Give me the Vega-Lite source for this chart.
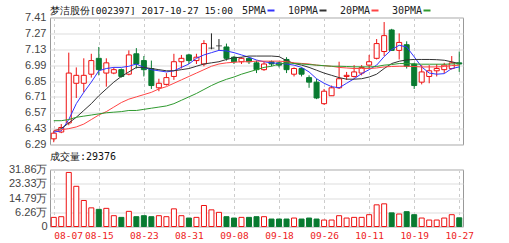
{
"$schema": "https://vega.github.io/schema/vega-lite/v6.json",
"padding": {"left": 0, "top": 5.5, "right": 0, "bottom": 0},
"background": "white",
"spacing": 0,
"config": {
  "view": {"stroke": "#999", "strokeWidth": 1},
  "font": "DejaVu Sans Mono",
  "title": {"fontWeight": "normal", "color": "#222"}
},
"datasets": {"k": [
{"d":"08-07","o":6.34,"h":6.41,"l":6.31,"c":6.39,"dir":"up","ma5":6.40,"ma10":6.41,"ma20":6.415,"ma30":6.50,"vol":3.19},
{"d":"08-08","o":6.40,"h":6.47,"l":6.39,"c":6.44,"dir":"up","ma5":6.41,"ma10":6.43,"ma20":6.42,"ma30":6.50,"vol":3.6},
{"d":"08-09","o":6.48,"h":7.10,"l":6.46,"c":6.92,"dir":"up","ma5":6.51,"ma10":6.48,"ma20":6.43,"ma30":6.51,"vol":30.1},
{"d":"08-10","o":6.83,"h":6.97,"l":6.70,"c":6.90,"dir":"up","ma5":6.65,"ma10":6.53,"ma20":6.445,"ma30":6.53,"vol":21.8},
{"d":"08-11","o":6.83,"h":7.05,"l":6.75,"c":6.90,"dir":"up","ma5":6.75,"ma10":6.59,"ma20":6.47,"ma30":6.54,"vol":13.3},
{"d":"08-14","o":6.91,"h":7.09,"l":6.88,"c":7.03,"dir":"up","ma5":6.84,"ma10":6.65,"ma20":6.51,"ma30":6.55,"vol":8.9},
{"d":"08-15","o":7.05,"h":7.15,"l":6.90,"c":6.95,"dir":"down","ma5":6.94,"ma10":6.72,"ma20":6.55,"ma30":6.56,"vol":8.0},
{"d":"08-16","o":6.92,"h":7.05,"l":6.80,"c":7.01,"dir":"up","ma5":6.96,"ma10":6.78,"ma20":6.58,"ma30":6.57,"vol":8.6},
{"d":"08-17","o":6.92,"h":6.97,"l":6.91,"c":6.95,"dir":"up","ma5":6.97,"ma10":6.84,"ma20":6.62,"ma30":6.575,"vol":4.2},
{"d":"08-18","o":6.95,"h":6.96,"l":6.88,"c":6.89,"dir":"down","ma5":6.97,"ma10":6.89,"ma20":6.66,"ma30":6.58,"vol":3.2},
{"d":"08-21","o":6.91,"h":7.12,"l":6.90,"c":7.08,"dir":"up","ma5":6.98,"ma10":6.93,"ma20":6.69,"ma30":6.59,"vol":6.8},
{"d":"08-22","o":7.09,"h":7.14,"l":6.96,"c":7.00,"dir":"down","ma5":7.00,"ma10":6.97,"ma20":6.71,"ma30":6.59,"vol":3.6},
{"d":"08-23","o":7.03,"h":7.07,"l":6.89,"c":6.95,"dir":"down","ma5":6.97,"ma10":6.97,"ma20":6.73,"ma30":6.60,"vol":4.2},
{"d":"08-24","o":6.96,"h":7.03,"l":6.78,"c":6.81,"dir":"down","ma5":6.95,"ma10":6.96,"ma20":6.75,"ma30":6.61,"vol":3.6},
{"d":"08-25","o":6.79,"h":6.87,"l":6.76,"c":6.83,"dir":"up","ma5":6.94,"ma10":6.95,"ma20":6.78,"ma30":6.62,"vol":4.2},
{"d":"08-28","o":6.82,"h":6.92,"l":6.81,"c":6.88,"dir":"up","ma5":6.93,"ma10":6.94,"ma20":6.80,"ma30":6.63,"vol":3.6},
{"d":"08-29","o":6.89,"h":7.09,"l":6.86,"c":7.02,"dir":"up","ma5":6.94,"ma10":6.94,"ma20":6.83,"ma30":6.65,"vol":8.3},
{"d":"08-30","o":7.02,"h":7.08,"l":6.96,"c":7.05,"dir":"up","ma5":6.97,"ma10":6.95,"ma20":6.86,"ma30":6.68,"vol":4.2},
{"d":"08-31","o":7.08,"h":7.09,"l":7.00,"c":7.03,"dir":"down","ma5":7.00,"ma10":6.96,"ma20":6.89,"ma30":6.71,"vol":2.8},
{"d":"09-01","o":7.03,"h":7.09,"l":7.00,"c":7.06,"dir":"up","ma5":7.05,"ma10":6.98,"ma20":6.92,"ma30":6.74,"vol":3.2},
{"d":"09-04","o":7.00,"h":7.21,"l":6.98,"c":7.18,"dir":"up","ma5":7.08,"ma10":7.00,"ma20":6.95,"ma30":6.775,"vol":10.3},
{"d":"09-05","o":7.14,"h":7.27,"l":7.13,"c":7.14,"dir":"flat","ma5":7.10,"ma10":7.01,"ma20":6.98,"ma30":6.81,"vol":7.7},
{"d":"09-06","o":7.16,"h":7.22,"l":7.12,"c":7.16,"dir":"flat","ma5":7.12,"ma10":7.02,"ma20":7.00,"ma30":6.84,"vol":6.2},
{"d":"09-07","o":7.15,"h":7.18,"l":7.03,"c":7.05,"dir":"down","ma5":7.115,"ma10":7.04,"ma20":7.01,"ma30":6.865,"vol":3.6},
{"d":"09-08","o":7.06,"h":7.07,"l":7.00,"c":7.02,"dir":"down","ma5":7.10,"ma10":7.055,"ma20":7.015,"ma30":6.885,"vol":2.8},
{"d":"09-11","o":7.02,"h":7.06,"l":7.00,"c":7.05,"dir":"up","ma5":7.08,"ma10":7.06,"ma20":7.02,"ma30":6.91,"vol":3.2},
{"d":"09-12","o":7.05,"h":7.06,"l":7.00,"c":7.02,"dir":"down","ma5":7.06,"ma10":7.07,"ma20":7.02,"ma30":6.93,"vol":3.2},
{"d":"09-13","o":7.01,"h":7.03,"l":6.92,"c":6.95,"dir":"down","ma5":7.035,"ma10":7.07,"ma20":7.025,"ma30":6.95,"vol":3.6},
{"d":"09-14","o":6.95,"h":7.02,"l":6.94,"c":7.00,"dir":"up","ma5":7.02,"ma10":7.07,"ma20":7.025,"ma30":6.97,"vol":3.6},
{"d":"09-15","o":7.02,"h":7.03,"l":6.98,"c":7.00,"dir":"down","ma5":7.01,"ma10":7.07,"ma20":7.025,"ma30":6.98,"vol":2.2},
{"d":"09-18","o":7.01,"h":7.02,"l":6.97,"c":6.99,"dir":"down","ma5":7.005,"ma10":7.065,"ma20":7.025,"ma30":7.00,"vol":2.2},
{"d":"09-19","o":7.04,"h":7.06,"l":6.92,"c":6.95,"dir":"down","ma5":7.00,"ma10":7.03,"ma20":7.02,"ma30":7.01,"vol":2.2},
{"d":"09-20","o":6.91,"h":6.97,"l":6.89,"c":6.96,"dir":"up","ma5":6.99,"ma10":7.005,"ma20":7.01,"ma30":7.005,"vol":2.8},
{"d":"09-21","o":6.96,"h":6.97,"l":6.89,"c":6.91,"dir":"down","ma5":6.97,"ma10":6.99,"ma20":7.005,"ma30":7.00,"vol":2.2},
{"d":"09-22","o":6.88,"h":6.90,"l":6.79,"c":6.84,"dir":"down","ma5":6.93,"ma10":6.97,"ma20":7.00,"ma30":6.995,"vol":2.8},
{"d":"09-25","o":6.84,"h":6.87,"l":6.69,"c":6.70,"dir":"down","ma5":6.87,"ma10":6.945,"ma20":6.99,"ma30":6.99,"vol":2.2},
{"d":"09-26","o":6.65,"h":6.78,"l":6.64,"c":6.76,"dir":"up","ma5":6.83,"ma10":6.92,"ma20":6.985,"ma30":6.985,"vol":1.6},
{"d":"09-27","o":6.72,"h":6.81,"l":6.72,"c":6.79,"dir":"up","ma5":6.80,"ma10":6.90,"ma20":6.98,"ma30":6.98,"vol":1.6},
{"d":"09-28","o":6.79,"h":7.02,"l":6.78,"c":6.87,"dir":"up","ma5":6.79,"ma10":6.88,"ma20":6.97,"ma30":6.98,"vol":4.2},
{"d":"09-29","o":6.89,"h":6.93,"l":6.86,"c":6.90,"dir":"up","ma5":6.83,"ma10":6.866,"ma20":6.965,"ma30":6.978,"vol":2.8},
{"d":"10-09","o":6.89,"h":6.99,"l":6.88,"c":6.93,"dir":"up","ma5":6.87,"ma10":6.866,"ma20":6.96,"ma30":6.975,"vol":3.2},
{"d":"10-10","o":6.92,"h":6.99,"l":6.90,"c":6.97,"dir":"up","ma5":6.915,"ma10":6.87,"ma20":6.96,"ma30":6.975,"vol":3.2},
{"d":"10-11","o":6.99,"h":7.08,"l":6.96,"c":7.02,"dir":"up","ma5":6.95,"ma10":6.885,"ma20":6.96,"ma30":6.974,"vol":4.8},
{"d":"10-12","o":7.05,"h":7.22,"l":7.04,"c":7.18,"dir":"up","ma5":6.99,"ma10":6.91,"ma20":6.965,"ma30":6.978,"vol":10.7},
{"d":"10-13","o":7.11,"h":7.37,"l":7.07,"c":7.25,"dir":"up","ma5":7.065,"ma10":6.96,"ma20":6.974,"ma30":6.99,"vol":11.3},
{"d":"10-16","o":7.30,"h":7.31,"l":7.12,"c":7.12,"dir":"down","ma5":7.127,"ma10":7.004,"ma20":6.978,"ma30":6.995,"vol":5.9},
{"d":"10-17","o":7.12,"h":7.27,"l":7.04,"c":7.19,"dir":"up","ma5":7.165,"ma10":7.024,"ma20":6.98,"ma30":7.004,"vol":5.2},
{"d":"10-18","o":7.17,"h":7.20,"l":6.96,"c":6.98,"dir":"down","ma5":7.15,"ma10":7.036,"ma20":6.98,"ma30":7.004,"vol":6.6},
{"d":"10-19","o":7.00,"h":7.01,"l":6.78,"c":6.81,"dir":"down","ma5":7.063,"ma10":7.04,"ma20":6.978,"ma30":7.00,"vol":4.8},
{"d":"10-20","o":6.84,"h":6.99,"l":6.82,"c":6.93,"dir":"up","ma5":6.974,"ma10":7.04,"ma20":6.974,"ma30":6.998,"vol":2.8},
{"d":"10-23","o":6.89,"h":6.99,"l":6.83,"c":6.94,"dir":"up","ma5":6.92,"ma10":7.04,"ma20":6.974,"ma30":6.998,"vol":1.6},
{"d":"10-24","o":6.94,"h":7.00,"l":6.89,"c":6.96,"dir":"up","ma5":6.91,"ma10":7.038,"ma20":6.974,"ma30":6.998,"vol":1.6},
{"d":"10-25","o":6.95,"h":7.01,"l":6.92,"c":6.99,"dir":"up","ma5":6.915,"ma10":7.033,"ma20":6.978,"ma30":6.998,"vol":2.8},
{"d":"10-26","o":6.96,"h":7.07,"l":6.95,"c":7.01,"dir":"up","ma5":6.96,"ma10":7.019,"ma20":6.986,"ma30":7.00,"vol":4.8},
{"d":"10-27","o":7.01,"h":7.11,"l":6.93,"c":7.00,"dir":"down","ma5":6.974,"ma10":7.004,"ma20":6.989,"ma30":7.004,"vol":2.94}
]},
"vconcat": [
{
  "width": 413, "height": 127,
  "data": {"name": "k"},
  "encoding": {
    "x": {"field": "d", "type": "ordinal", "sort": null, "scale": {"type": "point", "padding": 0.5},
      "axis": {"values": ["08-07","08-15","08-23","08-31","09-08","09-18","09-26","10-11","10-19","10-27"], "labels": false, "ticks": false, "domain": false, "grid": true, "gridDash": [3,3], "gridColor": "#ccc", "title": null, "minExtent": 0, "maxExtent": 0, "labelPadding": 0}}
  },
  "layer": [
    {
      "mark": {"type": "rule", "strokeWidth": 1},
      "encoding": {
        "y": {"field": "l", "type": "quantitative", "scale": {"domain": [6.29, 7.41], "nice": false, "zero": false},
          "axis": {"values": [6.29,6.43,6.57,6.71,6.85,6.99,7.13,7.27,7.41], "format": ".2f", "grid": true, "gridColor": "#ddd", "domain": false, "ticks": false, "labelPadding": 4, "labelFont": "Liberation Sans", "labelFontSize": 11, "labelColor": "#444", "title": null, "minExtent": 49, "labelOverlap": false}},
        "y2": {"field": "h"},
        "color": {"condition": [{"test": "datum.dir === 'down'", "value": "#087a30"}, {"test": "datum.dir === 'flat'", "value": "#222222"}], "value": "#ee1111"}
      }
    },
    {
      "transform": [{"filter": "datum.dir !== 'flat'"}],
      "mark": {"type": "bar", "width": 5, "strokeWidth": 1},
      "encoding": {
        "y": {"field": "o", "type": "quantitative",
          "axis": {"values": [6.29,6.43,6.57,6.71,6.85,6.99,7.13,7.27,7.41], "format": ".2f", "grid": true, "gridColor": "#ddd", "domain": false, "ticks": false, "labelPadding": 4, "labelFont": "Liberation Sans", "labelFontSize": 11, "labelColor": "#444", "title": null, "minExtent": 49, "labelOverlap": false}},
        "y2": {"field": "c"},
        "fill": {"condition": {"test": "datum.dir === 'down'", "value": "#087a30"}, "value": "#ffffff"},
        "stroke": {"condition": {"test": "datum.dir === 'down'", "value": "#087a30"}, "value": "#ee1111"}
      }
    },
    {
      "transform": [{"filter": "datum.dir === 'flat'"}],
      "mark": {"type": "tick", "thickness": 1, "size": 6, "color": "#222222"},
      "encoding": {"y": {"field": "c", "type": "quantitative",
          "axis": {"values": [6.29,6.43,6.57,6.71,6.85,6.99,7.13,7.27,7.41], "format": ".2f", "grid": true, "gridColor": "#ddd", "domain": false, "ticks": false, "labelPadding": 4, "labelFont": "Liberation Sans", "labelFontSize": 11, "labelColor": "#444", "title": null, "minExtent": 49, "labelOverlap": false}}}
    },
    {
      "transform": [{"fold": ["ma5", "ma10", "ma20", "ma30"], "as": ["ma", "v"]}],
      "mark": {"type": "line", "strokeWidth": 1},
      "encoding": {
        "y": {"field": "v", "type": "quantitative",
          "axis": {"values": [6.29,6.43,6.57,6.71,6.85,6.99,7.13,7.27,7.41], "format": ".2f", "grid": true, "gridColor": "#ddd", "domain": false, "ticks": false, "labelPadding": 4, "labelFont": "Liberation Sans", "labelFontSize": 11, "labelColor": "#444", "title": null, "minExtent": 49, "labelOverlap": false}},
        "color": {"field": "ma", "type": "nominal",
          "scale": {"domain": ["ma5", "ma10", "ma20", "ma30"], "range": ["#3333ff", "#333333", "#ff4444", "#2f9a2f"]},
          "legend": {"orient": "none", "legendX": 0, "legendY": -12, "direction": "horizontal",
            "title": "梦洁股份[002397] 2017-10-27 15:00", "titleOrient": "left", "titleFont": "DejaVu Sans Mono", "titleFontSize": 9.5, "titleFontWeight": "normal", "titleColor": "#111", "titlePadding": 33, "titleLimit": 400,
            "symbolType": "stroke", "symbolStrokeWidth": 2, "symbolSize": 49,
            "labelFont": "DejaVu Sans Mono", "labelFontSize": 10, "labelColor": "#222", "labelAlign": "right", "labelOffset": -10, "columnPadding": 8, "gridAlign": "all",
            "labelExpr": "{'ma5':'5PMA','ma10':'10PMA','ma20':'20PMA','ma30':'30PMA'}[datum.label]"}
        }
      }
    }
  ]
},
{
  "width": 413, "height": 57,
  "data": {"name": "k"},
  "title": {"text": "成交量:29376", "anchor": "start", "frame": "group", "fontSize": 10, "font": "DejaVu Sans Mono", "color": "#111", "offset": 2},
  "mark": {"type": "bar", "width": 5, "strokeWidth": 1},
  "encoding": {
    "x": {"field": "d", "type": "ordinal", "sort": null, "scale": {"type": "point", "padding": 0.5},
      "axis": {"values": ["08-07","08-15","08-23","08-31","09-08","09-18","09-26","10-11","10-19","10-27"], "grid": true, "gridDash": [3,3], "gridColor": "#ccc", "ticks": false, "domain": false, "labelColor": "#ee2222", "labelAngle": 0, "labelFontSize": 9.5, "labelFont": "DejaVu Sans Mono", "labelPadding": 4, "title": null,
        "labelAlign": {"condition": {"test": "datum.value === '08-07'", "value": "left"}, "value": "center"}}},
    "y": {"field": "vol", "type": "quantitative", "scale": {"domain": [-2.27, 31.86], "nice": false, "zero": false},
      "axis": {"values": [-2.27, 6.26, 14.79, 23.33, 31.86], "labelExpr": "datum.value < 0 ? '0' : format(datum.value, '.2f') + '万'", "grid": true, "gridColor": "#ddd", "domain": false, "ticks": false, "labelPadding": 3, "labelFont": "Liberation Sans", "labelFontSize": 11, "labelColor": "#444", "title": null, "minExtent": 49, "labelOverlap": false}},
    "y2": {"datum": -2.27},
    "fill": {"condition": {"test": "datum.dir === 'down'", "value": "#087a30"}, "value": "#ffffff"},
    "stroke": {"condition": {"test": "datum.dir === 'down'", "value": "#087a30"}, "value": "#ee1111"}
  }
}
]
}
